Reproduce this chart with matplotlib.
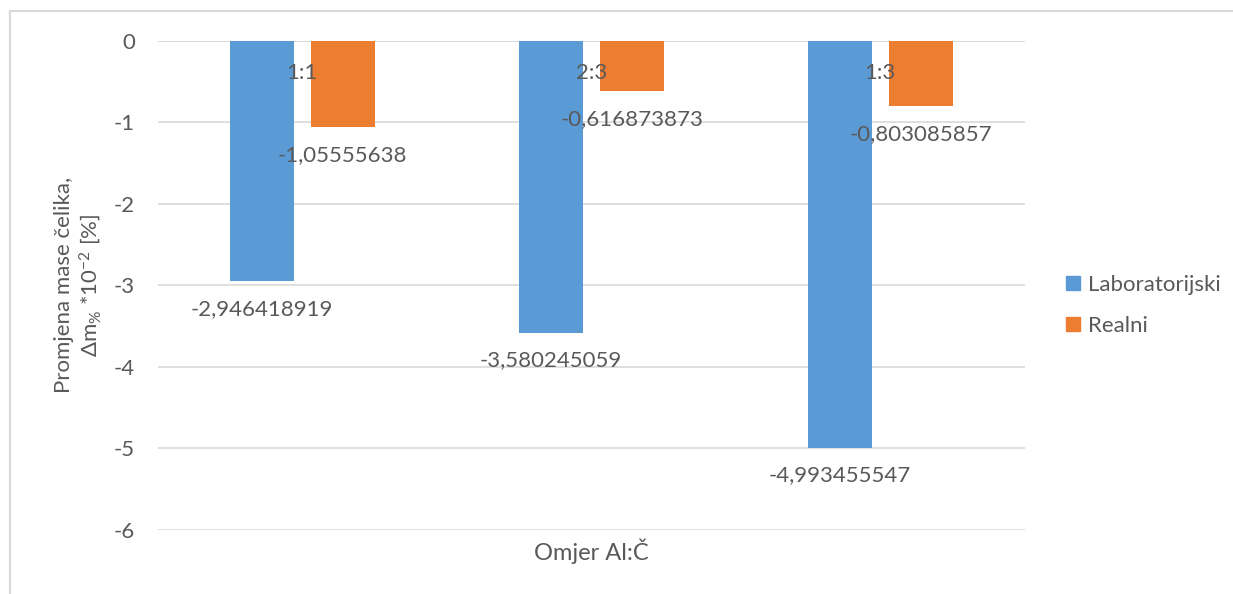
import numpy as np
import matplotlib
matplotlib.use('Agg')
import matplotlib.pyplot as plt
from matplotlib.lines import Line2D
from matplotlib.patches import Patch

plt.rcParams['font.family'] = ['Lato', 'DejaVu Sans']
plt.rcParams['mathtext.fontset'] = 'custom'
plt.rcParams['mathtext.rm'] = 'Lato'
plt.rcParams['mathtext.it'] = 'Lato'

categories = ['1:1', '2:3', '1:3']
laboratorijski = [-2.946418919, -3.580245059, -4.993455547]
realni = [-1.05555638, -0.616873873, -0.803085857]
lab_labels = ['-2,946418919', '-3,580245059', '-4,993455547']
real_labels = ['-1,05555638', '-0,616873873', '-0,803085857']

blue = '#5B9BD5'
orange = '#ED7D31'
grey = '#595959'
grid = '#D9D9D9'

fig = plt.figure(figsize=(12.33, 5.94), dpi=100)
ax = fig.add_axes([0.128, 0.108, 0.703, 0.823])

x = np.arange(len(categories))
w = 0.222
off = 0.14
ax.bar(x - off, laboratorijski, w, color=blue, zorder=3)
ax.bar(x + off, realni, w, color=orange, zorder=3)

for i in range(len(categories)):
    ax.text(x[i] - off, laboratorijski[i] - 0.34, lab_labels[i], ha='center', va='center',
            fontsize=16, color=grey, zorder=4)
    ax.text(x[i] + off, realni[i] - 0.34, real_labels[i], ha='center', va='center',
            fontsize=16, color=grey, zorder=4)
    ax.text(x[i], -0.39, categories[i], ha='center', va='center', fontsize=16, color=grey, zorder=4)

ax.set_xlim(-0.5, 2.5)
ax.set_ylim(-6, 0)
ax.set_yticks(range(-6, 1))
ax.set_yticklabels([str(v) for v in range(-6, 1)], fontsize=16, color=grey)
ax.tick_params(axis='y', length=0, pad=16.5)
ax.set_xticks([])
ax.yaxis.grid(True, color=grid, linewidth=1.2, zorder=0)
for s in ax.spines.values():
    s.set_visible(False)
ax.axhline(0, color=grid, linewidth=1.2, zorder=2)

ax.set_ylabel('Promjena mase čelika,\n$\\Delta$m$_{\\%}$ *10$^{-2}$ [%]', fontsize=16,
              color=grey, labelpad=8, linespacing=1.15)
ax.set_xlabel('Omjer Al:Č', fontsize=17, color=grey, labelpad=6)

handles = [Patch(color=blue, label='Laboratorijski'), Patch(color=orange, label='Realni')]
fig.legend(handles=handles, loc='center left', bbox_to_anchor=(0.848, 0.486), frameon=False,
           fontsize=16, labelcolor=grey, handlelength=0.65, handleheight=0.65,
           handletextpad=0.35, labelspacing=0.95)

# chart border (left and top edges visible)
fig.add_artist(Line2D([10 / 1233, 10 / 1233], [0, 1 - 11 / 594], transform=fig.transFigure,
                      color=grid, linewidth=1.5))
fig.add_artist(Line2D([10 / 1233, 1], [1 - 11 / 594, 1 - 11 / 594], transform=fig.transFigure,
                      color=grid, linewidth=1.5))

fig.savefig('out.png', dpi=100)
